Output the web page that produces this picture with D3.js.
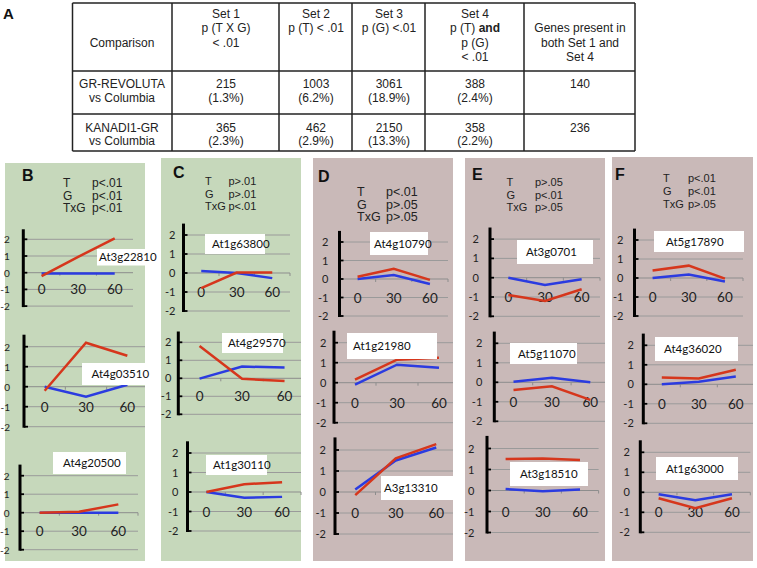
<!DOCTYPE html>
<html><head><meta charset="utf-8">
<script src="https://cdn.jsdelivr.net/npm/d3@7"></script>
<style>body{margin:0;background:#fff}svg{display:block}</style>
</head><body>
<svg id="c" width="757" height="568"></svg>
<script>
// ---------- DATA ----------
const comparisons = [["GR-REVOLUTA", "vs Columbia"], ["KANADI1-GR", "vs Columbia"]];
const set1Counts = [215, 365], set1Pct = ["1.3%", "2.3%"];
const set2Counts = [1003, 462], set2Pct = ["6.2%", "2.9%"];
const set3Counts = [3061, 2150], set3Pct = ["18.9%", "13.3%"];
const set4Counts = [388, 358], set4Pct = ["2.4%", "2.2%"];
const bothSets = [140, 236];
const headerLines = [
  [[2, "Comparison"]],
  [[0, "Set 1"], [1, "p (T X G)"], [2, "< .01"]],
  [[0, "Set 2"], [1, "p (T) < .01"]],
  [[0, "Set 3"], [1, "p (G) <.01"]],
  [[0, "Set 4"], [1, "p (T) |and"], [2, "p (G)"], [3, "< .01"]],
  [[1, "Genes present in"], [2, "both Set 1 and"], [3, "Set 4"]]
];

const panelLetters = ["B", "C", "D", "E", "F"];
const statLabels = ["T", "G", "TxG"];
const panelStats = [
  ["p<.01", "p<.01", "p<.01"],
  ["p>.01", "p>.01", "p<.01"],
  ["p<.01", "p>.05", "p>.05"],
  ["p>.05", "p<.01", "p>.05"],
  ["p<.01", "p<.01", "p>.05"]
];

const timePoints = ["0", "30", "60"];
const yTicks = [2, 1, 0, -1, -2];
const geneNames = ["At3g22810", "At4g03510", "At4g20500",
                   "At1g63800", "At4g29570", "At1g30110",
                   "At4g10790", "At1g21980", "A3g13310",
                   "At3g0701", "At5g11070", "At3g18510",
                   "At5g17890", "At4g36020", "At1g63000"];
const redValues = [
  [-0.2, 0.95, 2.05], [-0.2, 2.2, 1.55], [0, 0.05, 0.45],
  [-0.8, 0.02, 0.02], [1.8, -0.03, -0.15], [0, 0.4, 0.5],
  [0.12, 0.55, -0.05], [0.15, 1.15, 1.25], [-0.15, 1.6, 2.28],
  [-0.9, -1.2, -0.6], [-0.4, -0.2, -0.9], [1.5, 1.52, 1.45],
  [0.4, 0.65, -0.03], [0.35, 0.3, 0.75], [-0.3, -0.8, -0.3]
];
const blueValues = [
  [-0.05, -0.05, -0.05], [0, -0.5, 0.1], [0, 0, 0],
  [0.1, 0, -0.27], [-0.02, 0.65, 0.6], [0, -0.3, -0.25],
  [0, 0.22, -0.27], [-0.1, 0.9, 0.75], [0.12, 1.5, 2.12],
  [0, -0.38, -0.08], [0.03, 0.23, 0], [0.07, -0.03, 0.05],
  [0, 0.18, -0.18], [0, 0.13, 0.4], [-0.1, -0.4, -0.1]
];

// ---------- LAYOUT ----------
const GREEN = "#c6d8bb", MAUVE = "#c9b9b8";
const RED = "#d6361c", BLUE = "#2b3be0";
const TXT = "#222222";
const tableX = [72.5, 172, 279, 352, 425, 524, 635];
const tableY = [3, 71, 114, 151];
const panelRects = [
  {x: 5, y: 163, w: 140, h: 398, fill: GREEN, lx: 22, ly: 181, sx: 63, vx: 92, sy: 187, sd: 12.5, fs: 12, yfs: 10},
  {x: 161, y: 158, w: 140, h: 403, fill: GREEN, lx: 173, ly: 178, sx: 205, vx: 228.5, sy: 185, sd: 12.5, fs: 11, yfs: 11},
  {x: 313, y: 158, w: 140, h: 403, fill: MAUVE, lx: 318, ly: 182, sx: 357, vx: 386, sy: 196, sd: 12.5, fs: 12.5, yfs: 11},
  {x: 465, y: 158, w: 140, h: 403, fill: MAUVE, lx: 472, ly: 180, sx: 506.5, vx: 535, sy: 186, sd: 12.5, fs: 11, yfs: 11},
  {x: 612, y: 157, w: 141, h: 404, fill: MAUVE, lx: 615, ly: 180, sx: 663, vx: 688, sy: 182, sd: 13, fs: 11, yfs: 11}
];
const chartLayout = [
  {p: 0, ax: 23.3, pw: 109.7, y0: 272.7, u: 16.7, yl: 13.5, box: [97, 249, 65, 16.5], tx: 99},
  {p: 0, ax: 24, pw: 124, y0: 386.7, u: 20, yl: 14, box: [82, 363, 65, 22], tx: 91.5},
  {p: 0, ax: 20, pw: 118, y0: 512.7, u: 18.5, yl: 10.5, box: [53, 452, 73, 22], tx: 63},
  {p: 1, ax: 183.5, pw: 106.5, y0: 273, u: 19, yl: 8, box: [205, 234, 60, 20], tx: 212},
  {p: 1, ax: 178.3, pw: 127.5, y0: 378.3, u: 18, yl: 7, box: [222, 333, 61, 20], tx: 228},
  {p: 1, ax: 187.5, pw: 113.5, y0: 492, u: 19.5, yl: 9, box: [206, 455, 61, 20], tx: 213},
  {p: 2, ax: 339.5, pw: 108.5, y0: 279, u: 18.5, yl: 11, box: [370, 232, 58, 23], tx: 374},
  {p: 2, ax: 334, pw: 126, y0: 382.7, u: 20, yl: 7.5, box: [347, 333, 90, 26], tx: 353},
  {p: 2, ax: 335, pw: 121.5, y0: 492, u: 21, yl: 9, box: [381, 476, 72, 24], tx: 384},
  {p: 3, ax: 490, pw: 110, y0: 277.7, u: 19.3, yl: 11, box: [517, 240, 76, 24], tx: 526},
  {p: 3, ax: 494.3, pw: 115.2, y0: 382.3, u: 19.5, yl: 12, box: [510, 343, 67, 21], tx: 518},
  {p: 3, ax: 487, pw: 111.6, y0: 490.5, u: 21, yl: 12.5, box: [510, 462, 78, 24], tx: 520},
  {p: 4, ax: 634.5, pw: 108.5, y0: 278, u: 19, yl: 11, box: [654, 231, 90, 21], tx: 666},
  {p: 4, ax: 643.3, pw: 111, y0: 384.3, u: 19.5, yl: 9.5, box: [655, 337, 83, 24], tx: 664},
  {p: 4, ax: 640.3, pw: 110, y0: 492.3, u: 20, yl: 10.5, box: [656, 457, 82, 23], tx: 666}
];

const svg = d3.select("#c");
const ARIAL = "'Liberation Sans', Arial, sans-serif";
const CAL = "Lato, 'Open Sans', sans-serif";

// ---------- PANEL A: TABLE ----------
svg.append("text").attr("x", 3).attr("y", 19).attr("font-family", ARIAL)
  .attr("font-weight", "bold").attr("font-size", 15).attr("fill", "#111").text("A");
const tg = svg.append("g");
tableY.forEach(y => tg.append("line").attr("x1", tableX[0]).attr("x2", tableX[6])
  .attr("y1", y).attr("y2", y).attr("stroke", "#222").attr("stroke-width", 1.5));
tableX.forEach(x => tg.append("line").attr("x1", x).attr("x2", x)
  .attr("y1", tableY[0]).attr("y2", tableY[3]).attr("stroke", "#222").attr("stroke-width", 1.5));
const colMid = i => Math.round((tableX[i] + tableX[i + 1]) / 2);
headerLines.forEach((lines, ci) => {
  lines.forEach(([li, str]) => {
    const parts = str.split("|");
    const t = tg.append("text").attr("x", colMid(ci)).attr("y", 17.5 + li * 14.5)
      .attr("text-anchor", "middle").attr("font-family", ARIAL).attr("font-size", 12)
      .style("fill", TXT);
    if (parts.length === 1) { t.text(parts[0]); }
    else {
      t.append("tspan").style("fill", TXT).text(parts[0]);
      t.append("tspan").style("fill", TXT).attr("font-weight", "bold").text(parts[1]);
    }
  });
});
const rowBase = [[88, 101.5], [132, 145]];
const cellPairs = (r) => [
  comparisons[r],
  [String(set1Counts[r]), "(" + set1Pct[r] + ")"],
  [String(set2Counts[r]), "(" + set2Pct[r] + ")"],
  [String(set3Counts[r]), "(" + set3Pct[r] + ")"],
  [String(set4Counts[r]), "(" + set4Pct[r] + ")"],
  [String(bothSets[r])]
];
[0, 1].forEach(r => {
  cellPairs(r).forEach((lines, ci) => {
    lines.forEach((s, li) => tg.append("text").attr("x", colMid(ci)).attr("y", rowBase[r][li])
      .attr("text-anchor", "middle").attr("font-family", ARIAL).attr("font-size", 12)
      .style("fill", TXT).text(s));
  });
});

// ---------- PANELS B-F ----------
panelRects.forEach((P, pi) => {
  const g = svg.append("g");
  g.append("rect").attr("x", P.x).attr("y", P.y).attr("width", P.w).attr("height", P.h).attr("fill", P.fill);
  g.append("text").attr("x", P.lx).attr("y", P.ly).attr("font-family", ARIAL).attr("font-weight", "bold")
    .attr("font-size", 16).attr("fill", "#111").text(panelLetters[pi]);
  statLabels.forEach((lab, i) => {
    g.append("text").attr("x", P.sx).attr("y", P.sy + i * P.sd).attr("font-family", ARIAL)
      .attr("font-size", P.fs).attr("fill", TXT).text(lab);
    g.append("text").attr("x", P.vx).attr("y", P.sy + i * P.sd).attr("font-family", ARIAL)
      .attr("font-size", P.fs).attr("fill", TXT).text(panelStats[pi][i]);
  });

  chartLayout.forEach((L, ci) => {
    if (L.p !== pi) return;
    const right = Math.min(L.ax + L.pw, P.x + P.w);
    const x = d3.scaleBand().domain(timePoints).range([L.ax, L.ax + L.pw]);
    const y = d3.scaleLinear().domain([-2, 2]).range([L.y0 + 2 * L.u, L.y0 - 2 * L.u]);
    const cg = g.append("g");
    yTicks.forEach(v => cg.append("line").attr("x1", L.ax).attr("x2", right)
      .attr("y1", y(v)).attr("y2", y(v)).attr("stroke", v === 0 ? "#8d8d8d" : "#9a9a9a").attr("stroke-width", 1));
    [0, 1, 2, 3].forEach(k => {
      const xx = L.ax + k * x.step();
      if (xx <= right) cg.append("line").attr("x1", xx).attr("x2", xx).attr("y1", y(0)).attr("y2", y(0) + 3)
        .attr("stroke", "#8d8d8d").attr("stroke-width", 1);
    });
    cg.append("line").attr("x1", L.ax).attr("x2", L.ax).attr("y1", y(-2) + 1).attr("y2", y(2.6))
      .attr("stroke", "#000").attr("stroke-width", 3);
    yTicks.forEach(v => cg.append("line").attr("x1", L.ax).attr("x2", L.ax + 4)
      .attr("y1", y(v)).attr("y2", y(v)).attr("stroke", "#000").attr("stroke-width", 1.8));
    yTicks.forEach(v => cg.append("text").attr("x", L.ax - L.yl).attr("y", y(v) + 4)
      .attr("text-anchor", "end").attr("font-family", CAL).attr("font-size", P.yfs).attr("fill", TXT).text(v));
    timePoints.forEach(t => cg.append("text").attr("x", x(t) + x.bandwidth() / 2).attr("y", y(-1) + 5)
      .attr("text-anchor", "middle").attr("font-family", CAL).attr("font-size", 13.5).attr("fill", TXT).text(t));
    const line = d3.line().x((d, i) => x(timePoints[i]) + x.bandwidth() / 2).y(d => y(d));
    cg.append("path").datum(blueValues[ci]).attr("d", line).attr("fill", "none")
      .attr("stroke", BLUE).attr("stroke-width", 2.5);
    cg.append("path").datum(redValues[ci]).attr("d", line).attr("fill", "none")
      .attr("stroke", RED).attr("stroke-width", 2.5);
    cg.append("rect").attr("x", L.box[0]).attr("y", L.box[1]).attr("width", L.box[2]).attr("height", L.box[3])
      .attr("fill", "#fff");
    cg.append("text").attr("x", L.tx).attr("y", L.box[1] + L.box[3] / 2 + 4)
      .attr("font-family", CAL).attr("font-size", 11.5).attr("fill", "#111").text(geneNames[ci]);
  });
});
</script>
</body></html>
